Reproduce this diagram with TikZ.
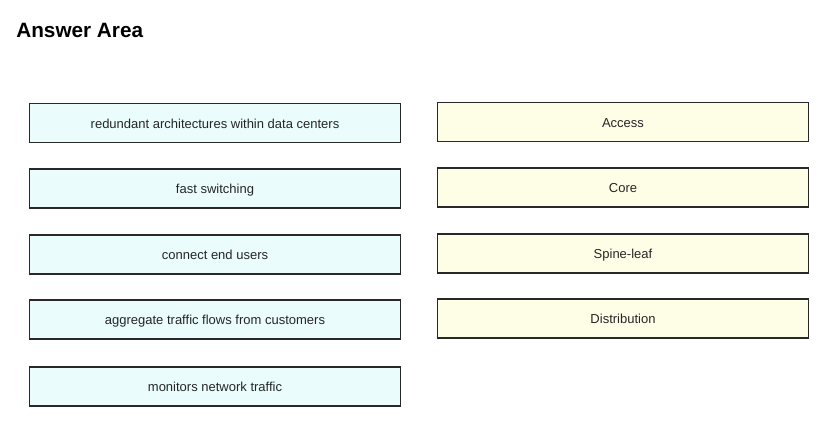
\documentclass[tikz,border=0pt]{standalone}
\usepackage{fontspec}
\setmainfont{Liberation Sans}
\definecolor{leftfill}{RGB}{234,252,252}
\definecolor{rightfill}{RGB}{254,254,230}
\definecolor{edge}{RGB}{40,40,40}
\tikzset{
  item/.style={draw=edge,line width=0.6pt,minimum width=7.44cm,minimum height=0.78cm,inner sep=0pt,text height=1.6ex,text depth=0.5ex,font=\fontsize{7.4}{9}\selectfont,text=black!85},
  usecase/.style={item,fill=leftfill},
  layer/.style={item,fill=rightfill}
}

\begin{document}
\begin{tikzpicture}[x=0.02cm,y=-0.02cm]
\useasboundingbox (0,0) rectangle (836,437);
\node[anchor=base west,inner sep=0pt,font=\bfseries\fontsize{11.8}{14}\selectfont] (title) at (16,37) {Answer Area};
% left column
\node[usecase] (redundant) at (215,123) {redundant architectures within data centers};
\node[usecase] (fast) at (215,188.5) {fast switching};
\node[usecase] (endusers) at (215,254.5) {connect end users};
\node[usecase] (aggregate) at (215,319.5) {aggregate traffic flows from customers};
\node[usecase] (monitors) at (215,386.5) {monitors network traffic};
% right column
\node[layer] (access) at (623,122) {Access};
\node[layer] (core) at (623,187.5) {Core};
\node[layer] (spine) at (623,253.5) {Spine-leaf};
\node[layer] (distribution) at (623,318.5) {Distribution};
\end{tikzpicture}
\end{document}
